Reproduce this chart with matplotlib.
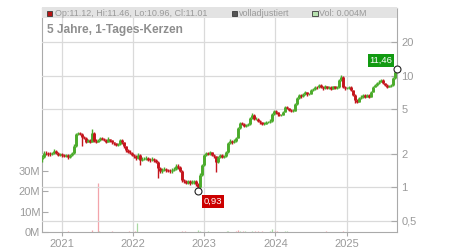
import matplotlib
matplotlib.use("Agg")
import matplotlib.pyplot as plt
from matplotlib.patches import Rectangle
import pandas as pd

plt.rcParams['font.family'] = ['Liberation Sans', 'DejaVu Sans']

# candles, roughly one every 10 days
opens = [1.80, 1.87, 2.03, 2.01, 1.99, 1.97, 2.03, 2.12, 2.03, 1.95,
         1.97, 1.93, 1.91, 1.94, 1.87, 1.95, 2.03, 2.35, 3.00, 3.07,
         3.02, 2.82, 2.77, 2.57, 2.63, 2.57, 3.07, 2.60, 2.57, 2.63,
         2.74, 2.70, 2.65, 2.57, 2.68, 2.63, 2.52, 2.47, 2.39, 2.44,
         2.63, 2.52, 2.32, 2.14, 2.09, 2.03, 1.95, 1.89, 1.83, 1.95,
         1.76, 1.79, 1.81, 1.84, 1.77, 1.76, 1.79, 1.74, 1.70, 1.49,
         1.39, 1.43, 1.47, 1.43, 1.41, 1.39, 1.43, 1.47, 1.55, 1.52,
         1.41, 1.16, 1.13, 1.10, 1.13, 1.09, 1.11, 1.13, 1.07, 1.01,
         1.29, 1.58, 1.95, 2.01, 1.99, 2.05, 1.95, 1.89, 1.70, 1.87,
         1.95, 1.87, 1.90, 2.07, 2.47, 2.60, 2.55, 2.60, 2.77, 3.40,
         3.77, 3.69, 3.54, 3.58, 3.69, 4.18, 4.44, 4.09, 4.12, 3.93,
         3.81, 3.69, 3.72, 3.81, 3.85, 3.93, 4.54, 4.78, 4.68, 4.49,
         4.44, 4.47, 4.73, 5.19, 5.12, 4.93, 4.83, 4.86, 5.58, 6.25,
         6.72, 6.51, 6.86, 7.07, 6.79, 6.86, 7.37, 7.60, 7.92, 7.85,
         8.25, 7.97, 7.71, 8.05, 7.80, 7.95, 7.65, 8.00, 7.75, 7.90,
         9.15, 9.80, 7.97, 7.71, 7.80, 7.97, 7.45, 6.72, 6.06, 5.85,
         6.27, 6.48, 6.72, 6.48, 6.72, 6.48, 7.19, 7.97, 8.25, 8.55,
         8.84, 9.15, 8.55, 8.25, 7.97, 8.05, 8.25, 9.48, 11.12]
closes = [1.87, 2.03, 2.01, 1.99, 1.97, 2.03, 2.12, 2.03, 1.95, 1.97,
          1.93, 1.91, 1.94, 1.87, 1.95, 2.03, 2.35, 3.00, 3.07, 3.02,
          2.82, 2.77, 2.57, 2.63, 2.57, 3.07, 2.60, 2.57, 2.63, 2.74,
          2.70, 2.65, 2.57, 2.68, 2.63, 2.52, 2.47, 2.39, 2.44, 2.63,
          2.52, 2.32, 2.14, 2.09, 2.03, 1.95, 1.89, 1.83, 1.95, 1.76,
          1.79, 1.81, 1.84, 1.77, 1.76, 1.79, 1.74, 1.70, 1.49, 1.39,
          1.43, 1.47, 1.43, 1.41, 1.39, 1.43, 1.47, 1.55, 1.52, 1.41,
          1.16, 1.13, 1.10, 1.13, 1.09, 1.11, 1.13, 1.07, 1.01, 1.29,
          1.58, 1.95, 2.01, 1.99, 2.05, 1.95, 1.89, 1.70, 1.87, 1.95,
          1.87, 1.90, 2.07, 2.47, 2.60, 2.55, 2.60, 2.77, 3.40, 3.77,
          3.69, 3.54, 3.58, 3.69, 4.18, 4.44, 4.09, 4.12, 3.93, 3.81,
          3.69, 3.72, 3.81, 3.85, 3.93, 4.54, 4.78, 4.68, 4.49, 4.44,
          4.47, 4.73, 5.19, 5.12, 4.93, 4.83, 4.86, 5.58, 6.25, 6.72,
          6.51, 6.86, 7.07, 6.79, 6.86, 7.37, 7.60, 7.92, 7.85, 8.25,
          7.97, 7.71, 8.05, 7.80, 7.95, 7.65, 8.00, 7.75, 7.90, 9.15,
          9.80, 7.97, 7.71, 7.80, 7.97, 7.45, 6.72, 6.06, 5.85, 6.27,
          6.48, 6.72, 6.48, 6.72, 6.48, 7.19, 7.97, 8.25, 8.55, 8.84,
          9.15, 8.55, 8.25, 7.97, 8.05, 8.25, 9.48, 10.86, 11.01]
highs = [1.95, 2.10, 2.10, 2.07, 2.05, 2.09, 2.20, 2.16, 2.06, 2.03,
         2.01, 1.98, 1.99, 1.97, 2.00, 2.09, 2.42, 3.08, 3.15, 3.12,
         3.05, 2.90, 2.80, 2.72, 2.68, 3.35, 3.10, 2.68, 2.72, 2.82,
         2.80, 2.76, 2.70, 2.85, 2.73, 2.66, 2.57, 2.51, 2.50, 2.72,
         2.68, 2.56, 2.36, 2.20, 2.14, 2.08, 2.00, 1.93, 2.02, 1.98,
         1.85, 1.88, 1.90, 1.88, 1.83, 1.85, 1.83, 1.80, 1.72, 1.52,
         1.48, 1.52, 1.50, 1.47, 1.45, 1.48, 1.52, 1.62, 1.60, 1.55,
         1.43, 1.19, 1.16, 1.17, 1.15, 1.15, 1.17, 1.15, 1.10, 1.33,
         1.63, 2.00, 2.08, 2.07, 2.12, 2.08, 1.98, 1.92, 1.92, 2.00,
         1.98, 1.95, 2.12, 2.55, 2.68, 2.66, 2.68, 2.85, 3.50, 3.88,
         3.85, 3.74, 3.68, 3.80, 4.30, 4.60, 4.50, 4.25, 4.18, 3.98,
         3.86, 3.82, 3.90, 3.95, 4.05, 4.65, 4.92, 4.88, 4.74, 4.58,
         4.58, 4.85, 5.32, 5.30, 5.18, 5.00, 4.98, 5.70, 6.40, 6.90,
         6.85, 7.00, 7.25, 7.15, 7.05, 7.55, 7.80, 8.15, 8.10, 8.45,
         8.35, 8.05, 8.20, 8.10, 8.15, 8.05, 8.15, 8.10, 8.10, 9.35,
         10.10, 9.85, 8.10, 7.95, 8.15, 8.05, 7.50, 6.80, 6.20, 6.40,
         6.65, 6.85, 6.80, 6.85, 6.80, 7.35, 8.15, 8.45, 8.75, 9.05,
         9.35, 9.25, 8.65, 8.35, 8.20, 8.40, 9.65, 11.05, 11.46]
lows = [1.70, 1.84, 1.95, 1.92, 1.91, 1.94, 2.00, 1.98, 1.90, 1.90,
        1.88, 1.85, 1.86, 1.81, 1.84, 1.92, 2.00, 2.30, 2.92, 2.93,
        2.33, 2.68, 2.50, 2.52, 2.50, 2.55, 2.52, 2.50, 2.52, 2.60,
        2.63, 2.58, 2.50, 2.53, 2.56, 2.46, 2.41, 2.33, 2.34, 2.40,
        2.46, 2.26, 2.08, 2.03, 1.97, 1.89, 1.83, 1.77, 1.80, 1.58,
        1.71, 1.74, 1.76, 1.72, 1.70, 1.71, 1.68, 1.64, 1.21, 1.34,
        1.35, 1.40, 1.38, 1.36, 1.34, 1.35, 1.40, 1.44, 1.46, 1.36,
        1.12, 1.09, 1.06, 1.07, 1.05, 1.06, 1.08, 1.03, 0.93, 0.98,
        1.26, 1.55, 1.90, 1.93, 1.95, 1.90, 1.84, 1.38, 1.66, 1.84,
        1.82, 1.83, 1.86, 2.04, 2.42, 2.45, 2.50, 2.56, 2.74, 3.35,
        3.58, 3.44, 3.45, 3.52, 3.65, 4.10, 4.00, 3.98, 3.85, 3.72,
        3.60, 3.60, 3.66, 3.74, 3.80, 3.88, 4.45, 4.55, 4.38, 4.33,
        4.35, 4.42, 4.68, 4.98, 4.80, 4.70, 4.72, 4.80, 5.50, 6.15,
        6.30, 6.40, 6.75, 6.60, 6.65, 6.78, 7.25, 7.50, 7.65, 7.75,
        7.80, 7.50, 7.60, 7.55, 7.60, 7.50, 7.55, 7.55, 7.60, 7.80,
        9.00, 7.70, 7.50, 7.55, 7.65, 7.30, 6.55, 5.66, 5.70, 5.78,
        6.15, 6.35, 6.35, 6.38, 6.35, 6.42, 7.10, 7.85, 8.10, 8.40,
        8.70, 8.40, 8.05, 7.80, 7.85, 7.95, 8.15, 9.40, 10.96]
dates = pd.date_range('2020-09-22', '2025-09-16', periods=len(closes))

vol_dates = pd.to_datetime([
    '2021-02-04', '2021-06-07', '2021-07-07', '2021-07-12', '2021-09-14',
    '2021-12-13', '2022-01-11', '2022-01-23', '2022-09-10', '2022-09-24',
    '2022-12-01', '2022-12-13', '2023-01-22', '2023-04-26', '2023-05-05',
    '2023-06-13', '2023-06-21', '2023-07-03', '2023-07-20', '2023-07-28',
    '2023-09-01', '2023-09-18', '2023-10-05', '2023-10-22', '2023-12-04',
    '2023-12-15', '2023-12-29', '2024-01-07', '2024-02-19', '2024-02-27',
    '2024-09-16', '2024-12-13'])
vol_m = [0.5, 1.0, 24.3, 0.7, 0.5, 0.8, 0.7, 4.4, 0.6, 0.6,
         1.2, 0.7, 0.7, 0.6, 0.7, 0.6, 1.3, 0.8, 0.6, 0.5,
         0.6, 0.6, 0.6, 0.6, 0.6, 1.5, 0.8, 0.6, 0.6, 0.8,
         0.6, 0.6]
vol_up = [0, 0, 0, 1, 0, 0, 0, 1, 0, 0,
          1, 1, 1, 1, 1, 0, 0, 1, 0, 1,
          1, 0, 0, 0, 1, 1, 0, 0, 1, 1,
          0, 0]

years = ['2021', '2022', '2023', '2024', '2025']
price_ticks = [0.5, 1, 2, 5, 10, 20]
price_labels = ['0,5', '1', '2', '5', '10', '20']
vol_ticks = [0, 10, 20, 30]
vol_labels = ['0M', '10M', '20M', '30M']

RED = '#c4141c'
GREEN = '#4aab2a'
TXT = '#9a9a9a'
GRID = '#dadada'
AX = '#aaaaaa'

def fx(x):
    return x / 450

def fy(y):
    return 1 - y / 250

fig = plt.figure(figsize=(4.5, 2.5), dpi=100)
ax = fig.add_axes([fx(41.7), fy(232.3), fx(397.3) - fx(41.7), fy(7.5) - fy(232.3)])

# volume (left axis)
vcols = ['#a9d9a2' if u else '#f3a4ab' for u in vol_up]
ax.vlines(vol_dates, 0, vol_m, colors=vcols, lw=0.9)
ax.set_ylim(0, 110)
ax.set_yticks(vol_ticks)
ax.set_yticklabels(vol_labels)
ax.set_xticks(pd.to_datetime([y + '-01-01' for y in years]))
ax.set_xticklabels(years)
ax.set_xlim(dates[0] - pd.Timedelta(days=1), dates[-1])
ax.grid(axis='x', color=GRID, lw=0.9)
ax.set_axisbelow(True)
ax.tick_params(axis='y', direction='in', length=4, pad=1, colors=AX, labelcolor=TXT, labelsize=8)
ax.tick_params(axis='x', direction='out', length=3, pad=2, colors=AX, labelcolor=TXT, labelsize=8)
for s in ax.spines.values():
    s.set_color(AX)
ax.spines['top'].set_color('#cccccc')

# price candles (right axis, log)
axp = ax.twinx()
axp.set_yscale('log')
axp.set_ylim(0.395, 40.8)
axp.set_yticks(price_ticks)
axp.set_yticklabels(price_labels)
axp.minorticks_off()
axp.grid(axis='y', color=GRID, lw=0.9)
axp.set_axisbelow(True)
axp.tick_params(axis='y', direction='in', length=4, pad=3, colors=AX, labelcolor=TXT, labelsize=8)
for s in axp.spines.values():
    s.set_visible(False)

cols = [GREEN if c >= o else RED for o, c in zip(opens, closes)]
axp.vlines(dates, lows, highs, colors=cols, lw=1.0)
axp.vlines(dates, [min(o, c) for o, c in zip(opens, closes)],
           [max(o, c) for o, c in zip(opens, closes)], colors=cols, lw=2.1)

# high / low markers
imin = lows.index(min(lows))
axp.plot([dates[-1]], [highs[-1]], 'o', ms=5, mfc='white', mec='#222222', mew=0.8, clip_on=False, zorder=5)
axp.plot([dates[imin]], [lows[imin]], 'o', ms=5, mfc='white', mec='#222222', mew=0.8, zorder=5)
axp.annotate('11,46', xy=(dates[-1], highs[-1]), xytext=(-5, 4), textcoords='offset pixels',
             ha='right', va='bottom', fontsize=6.8, color='white',
             bbox=dict(boxstyle='square,pad=0.2', fc='#119a11', ec='none'), zorder=6)
axp.annotate('0,93', xy=(dates[imin], lows[imin]), xytext=(6, -6), textcoords='offset pixels',
             ha='left', va='top', fontsize=6.8, color='white',
             bbox=dict(boxstyle='square,pad=0.2', fc='#cc0000', ec='none'), zorder=6)

# header band
fig.patches.append(Rectangle((fx(41.7), fy(18.3)), fx(397.3) - fx(41.7), 11 / 250,
                             transform=fig.transFigure, fc='#e3e3e3', ec='none'))
for x0, fc in [(46.6, '#b81414'), (231.5, '#555555'), (312.3, '#b6e0ae')]:
    fig.patches.append(Rectangle((fx(x0), fy(16.0)), 5.4 / 450, 5.4 / 250,
                                 transform=fig.transFigure, fc=fc, ec='#3a3a3a', lw=0.6))
fig.text(fx(54.8), fy(13.2), 'Op:11.12, Hi:11.46, Lo:10.96, Cl:11.01', fontsize=6.5, color=TXT, va='center')
fig.text(fx(238.6), fy(13.2), 'volladjustiert', fontsize=6.5, color=TXT, va='center')
fig.text(fx(319.4), fy(13.2), 'Vol: 0.004M', fontsize=6.5, color=TXT, va='center')
fig.text(fx(46.6), fy(30), '5 Jahre, 1-Tages-Kerzen', fontsize=8.6, fontweight='bold', color='#8e8e8e', va='center')

fig.savefig('out.png', dpi=100)
